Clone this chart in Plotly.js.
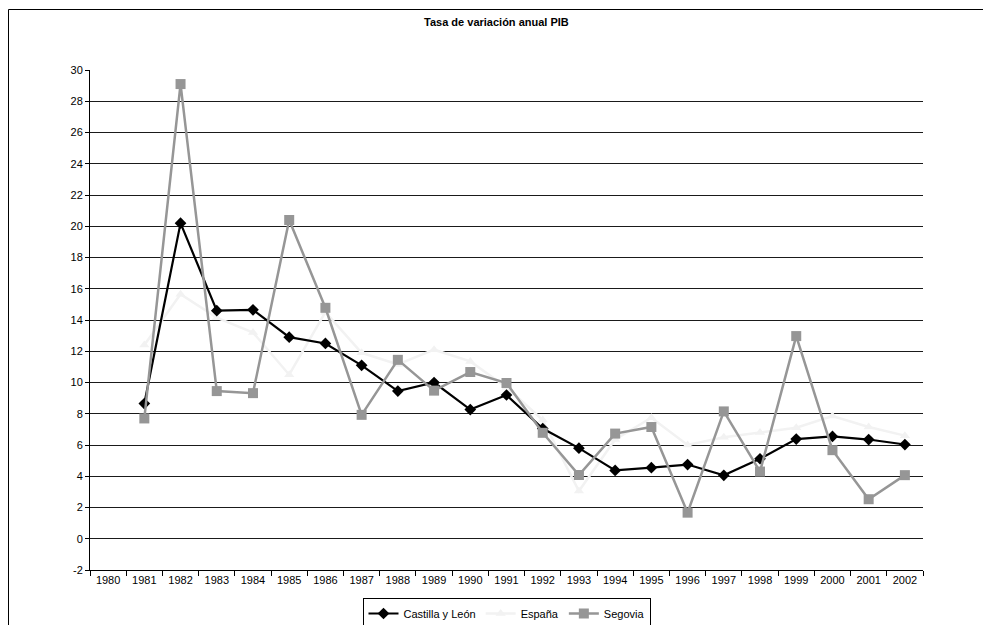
<!DOCTYPE html>
<html>
<head>
<meta charset="utf-8">
<script src="https://cdn.plot.ly/plotly-3.0.1.min.js"></script>
<style>html,body{margin:0;padding:0;background:#fff}#chart{width:983px;height:625px}</style>
</head>
<body>
<div id="chart"></div>
<script>
const years = ["1980","1981","1982","1983","1984","1985","1986","1987","1988","1989","1990","1991","1992","1993","1994","1995","1996","1997","1998","1999","2000","2001","2002"];
const castillaYLeon = [null,8.65,20.2,14.6,14.65,12.9,12.5,11.1,9.45,10.0,8.27,9.2,7.05,5.8,4.37,4.55,4.75,4.06,5.12,6.38,6.55,6.35,6.03];
const espana = [null,12.4,15.65,14.15,13.2,10.5,14.5,11.9,11.15,12.1,11.35,9.7,7.6,3.05,6.35,7.75,6.0,6.5,6.8,7.1,7.85,7.15,6.6];
const segovia = [null,7.7,29.1,9.45,9.32,20.4,14.78,7.93,11.45,9.48,10.67,9.97,6.78,4.08,6.73,7.15,1.67,8.15,4.3,12.97,5.67,2.53,4.07];
const seriesNames = ["Castilla y León","España","Segovia"];
const yTicks = [-2,0,2,4,6,8,10,12,14,16,18,20,22,24,26,28,30];
const yTickText = ["-2","0","2","4","6","8","10","12","14","16","18","20","22","24","26","28","30"];

const traces = [
  {x: years, y: espana, name: seriesNames[1], legendrank: 2, type: "scatter", mode: "lines+markers",
   line: {color: "#f2f2f2", width: 2.5}, marker: {symbol: "triangle-up", size: 9, color: "#f2f2f2"}},
  {x: years, y: castillaYLeon, name: seriesNames[0], legendrank: 1, type: "scatter", mode: "lines+markers",
   line: {color: "#000000", width: 2.2}, marker: {symbol: "diamond", size: 9, color: "#000000"}},
  {x: years, y: segovia, name: seriesNames[2], legendrank: 3, type: "scatter", mode: "lines+markers",
   line: {color: "#969696", width: 2.5}, marker: {symbol: "square", size: 10, color: "#969696"}}
];

const layout = {
  width: 983, height: 625,
  margin: {l: 90, r: 60, t: 70, b: 55, autoexpand: false},
  paper_bgcolor: "#ffffff", plot_bgcolor: "#ffffff",
  font: {family: "Liberation Sans, Arial, sans-serif", size: 11, color: "#000"},
  title: {text: "<b>Tasa de variación anual PIB</b>", x: 0.505, xref: "container", xanchor: "center",
          y: 0.965, yref: "container", yanchor: "middle",
          font: {size: 11, family: "Liberation Sans, Arial, sans-serif", color: "#000"}},
  xaxis: {type: "category", categoryorder: "array", categoryarray: years, range: [-0.5, 22.5],
          showgrid: false, showline: true, linecolor: "#000", linewidth: 1,
          ticks: "outside", tickson: "boundaries", ticklen: 5, tickcolor: "#000",
          tickfont: {size: 11}, fixedrange: true},
  yaxis: {range: [-2, 30], tickvals: yTicks, ticktext: yTickText, showgrid: true, gridcolor: "#1a1a1a", gridwidth: 1,
          zeroline: false, showline: true, linecolor: "#000", linewidth: 1,
          ticks: "outside", ticklen: 4, tickcolor: "#000", tickfont: {size: 11}, fixedrange: true},
  showlegend: true,
  legend: {orientation: "h", x: 0.5, xanchor: "center", y: -0.056, yanchor: "top",
           traceorder: "normal", bordercolor: "#000", borderwidth: 1, bgcolor: "#fff",
           font: {size: 11}, itemwidth: 30},
  shapes: [{type: "rect", xref: "paper", yref: "paper", x0: (8.5-90)/833, x1: 1.2, y0: -0.3, y1: 1 + (70-9.5)/500,
            line: {color: "#000", width: 1}, fillcolor: "rgba(0,0,0,0)", layer: "below"}]
};

Plotly.newPlot("chart", traces, layout, {displayModeBar: false, staticPlot: true});
</script>
</body>
</html>
